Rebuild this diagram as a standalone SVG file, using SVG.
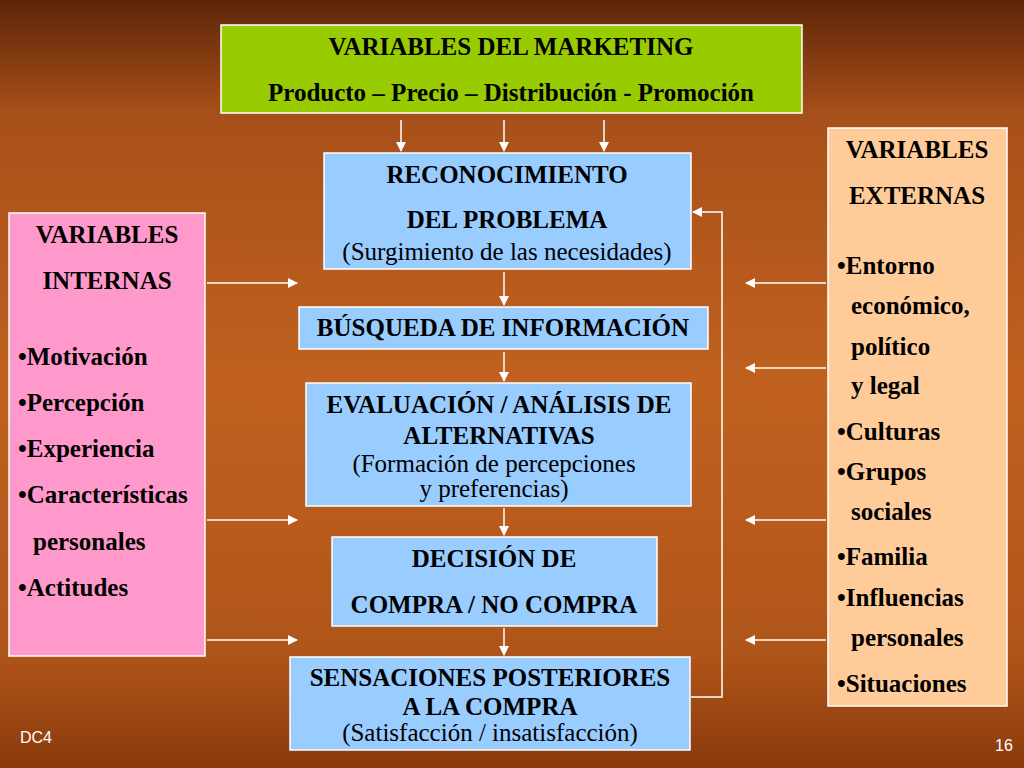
<svg xmlns="http://www.w3.org/2000/svg" width="1024" height="768" viewBox="0 0 1024 768">
<defs>
<linearGradient id="bg" x1="0" y1="0" x2="0" y2="1">
<stop offset="0" stop-color="#5e2508"/><stop offset="0.15" stop-color="#a8501a"/><stop offset="0.5" stop-color="#c0611f"/><stop offset="0.85" stop-color="#b05519"/><stop offset="1" stop-color="#8a3a0c"/>
</linearGradient>
<marker id="ah" viewBox="0 0 10 10" refX="9" refY="5" markerWidth="10" markerHeight="10" markerUnits="userSpaceOnUse" orient="auto"><path d="M0,0 L10,5 L0,10 Z" fill="#fff"/></marker>
</defs>
<style>
text{font-family:"Liberation Serif","Times New Roman",serif;font-size:25px;fill:#000}
.b{font-weight:bold}
.c{text-anchor:middle}
.blue{fill:#99ccff;stroke:#fff;stroke-width:1.5}
.a{stroke:#fff;stroke-width:1.5;fill:none;marker-end:url(#ah)}
.ft{font-family:"Liberation Sans",Arial,sans-serif;font-size:16px;fill:#fff}
</style>
<rect width="1024" height="768" fill="url(#bg)"/>
<g id="marketing"><rect x="221" y="25" width="581" height="88" fill="#99cc00" stroke="#fff" stroke-width="1.5"/>
<text class="b c" x="511" y="55">VARIABLES DEL MARKETING</text>
<text class="b c" x="511" y="101">Producto – Precio – Distribución - Promoción</text></g>
<g id="reconocimiento"><rect class="blue" x="324" y="153" width="367" height="116"/>
<text class="b c" x="507" y="183">RECONOCIMIENTO</text>
<text class="b c" x="507" y="228">DEL PROBLEMA</text>
<text class="c" x="507" y="260">(Surgimiento de las necesidades)</text></g>
<g id="busqueda"><rect class="blue" x="299" y="307" width="409" height="42"/>
<text class="b c" x="503" y="336">BÚSQUEDA DE INFORMACIÓN</text></g>
<g id="evaluacion"><rect class="blue" x="306" y="383" width="385" height="123"/>
<text class="b c" x="499" y="413">EVALUACIÓN / ANÁLISIS DE</text>
<text class="b c" x="499" y="444">ALTERNATIVAS</text>
<text class="c" x="494" y="472">(Formación de percepciones</text>
<text class="c" x="494" y="497">y preferencias)</text></g>
<g id="decision"><rect class="blue" x="332" y="537" width="325" height="89"/>
<text class="b c" x="494" y="567">DECISIÓN DE</text>
<text class="b c" x="494" y="613">COMPRA / NO COMPRA</text></g>
<g id="sensaciones"><rect class="blue" x="290" y="657" width="400" height="93"/>
<text class="b c" x="490" y="686">SENSACIONES POSTERIORES</text>
<text class="b c" x="490" y="715">A LA COMPRA</text>
<text class="c" x="490" y="741">(Satisfacción / insatisfacción)</text></g>
<g id="internas"><rect x="9" y="213" width="196" height="443" fill="#ff99cc" stroke="#fff" stroke-width="1.5"/>
<text class="b c" x="107" y="243">VARIABLES</text>
<text class="b c" x="107" y="289">INTERNAS</text>
<text class="b" x="18" y="365">•Motivación</text>
<text class="b" x="18" y="411">•Percepción</text>
<text class="b" x="18" y="457">•Experiencia</text>
<text class="b" x="18" y="503">•Características</text>
<text class="b" x="33" y="550">personales</text>
<text class="b" x="18" y="596">•Actitudes</text></g>
<g id="externas"><rect x="828" y="128" width="179" height="578" fill="#ffcc99" stroke="#fff" stroke-width="1.5"/>
<text class="b c" x="917" y="158">VARIABLES</text>
<text class="b c" x="917" y="204">EXTERNAS</text>
<text class="b" x="837" y="274">•Entorno</text>
<text class="b" x="851" y="314">económico,</text>
<text class="b" x="851" y="355">político</text>
<text class="b" x="851" y="394">y legal</text>
<text class="b" x="837" y="440">•Culturas</text>
<text class="b" x="837" y="480">•Grupos</text>
<text class="b" x="851" y="520">sociales</text>
<text class="b" x="837" y="565">•Familia</text>
<text class="b" x="837" y="606">•Influencias</text>
<text class="b" x="851" y="646">personales</text>
<text class="b" x="837" y="692">•Situaciones</text></g>
<g id="connectors">
<path class="a" d="M401,120 V151"/><path class="a" d="M504,120 V151"/><path class="a" d="M604,120 V151"/>
<path class="a" d="M504,272 V305"/><path class="a" d="M504,352 V381"/><path class="a" d="M504,508 V535"/><path class="a" d="M504,628 V655"/>
<path class="a" d="M207,283 H297"/><path class="a" d="M207,520 H297"/><path class="a" d="M207,640 H297"/>
<path class="a" d="M826,283 H746"/><path class="a" d="M826,368 H746"/><path class="a" d="M826,520 H746"/><path class="a" d="M826,640 H746"/>
<path class="a" d="M691,697 H722 V212 H693"/>
</g>
<text class="ft" x="20" y="743">DC4</text>
<text class="ft" x="995" y="751">16</text>
</svg>
